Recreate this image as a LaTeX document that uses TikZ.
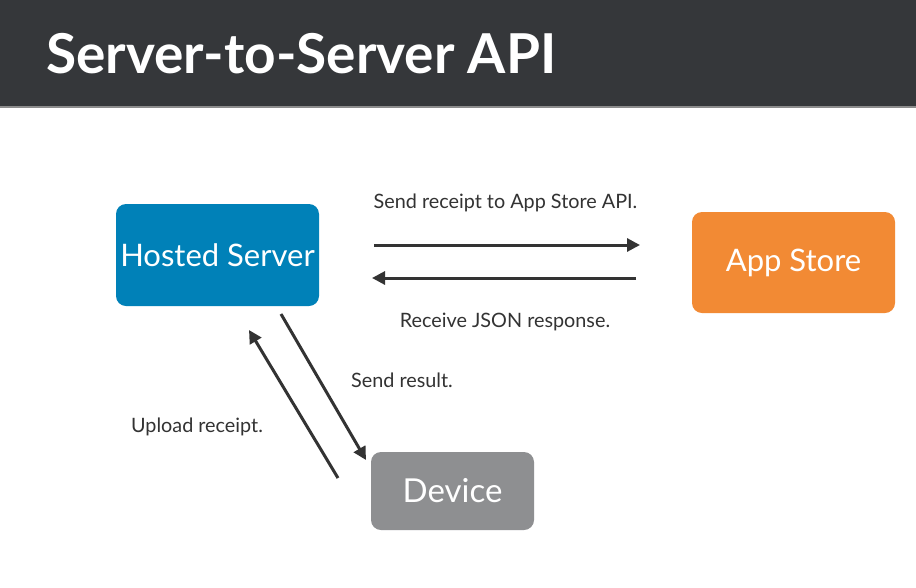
\documentclass[tikz,border=0pt]{standalone}
\usepackage{fontspec}
\setmainfont{Lato}
\usetikzlibrary{arrows.meta}
\pgfdeclarelayer{bg}
\pgfsetlayers{bg,main}
\definecolor{hdrgrey}{HTML}{35373A}
\definecolor{hdrline}{HTML}{8C8C8C}
\definecolor{hsblue}{HTML}{0081B8}
\definecolor{asorange}{HTML}{F28A34}
\definecolor{dvgrey}{HTML}{8E8F91}
\definecolor{txtgrey}{HTML}{333333}
\definecolor{arrgrey}{HTML}{333333}
\tikzset{
  box/.style={rounded corners=10pt, text=white, inner sep=0pt,
    font=\fontsize{31}{35}\selectfont},
  lbl/.style={text=txtgrey, inner sep=0pt, anchor=base,
    font=\fontsize{19.8}{23}\selectfont},
  arr/.style={line width=3pt, draw=arrgrey,
    -{Triangle[length=13pt,width=13pt]}}
}

\begin{document}
\begin{tikzpicture}[x=1pt,y=-1pt]
        \useasboundingbox (0,0) rectangle (916,587);
        \begin{pgfonlayer}{bg}
                \fill[white] (0,0) rectangle (916,587);
                \fill[hdrgrey] (0,0) rectangle (916,107);
                \draw[hdrline, line width=1.5pt] (0,107) -- (916,107);
        \end{pgfonlayer}
        \node (title) [anchor=base west, text=white, inner sep=0pt,
          font=\fontsize{55}{60}\selectfont\bfseries] at (46,73) {Server-to-Server API};
        \node (hs) [box, fill=hsblue, minimum width=203pt, minimum height=102pt] at (217.5,255) {Hosted Server};
        \node (as) [box, fill=asorange, minimum width=203pt, minimum height=101pt] at (793.5,262.5) {App Store};
        \node (dv) [box, fill=dvgrey, minimum width=163pt, minimum height=78pt,
          font=\fontsize{33}{37}\selectfont] at (452.5,491) {Device};
        \coordinate (sendA) at (374,245);
        \coordinate (sendB) at (640,245);
        \coordinate (recvA) at (636,278);
        \coordinate (recvB) at (372,278);
        \coordinate (resA) at (281,314);
        \coordinate (resB) at (366,460);
        \coordinate (upA) at (338,478);
        \coordinate (upB) at (249,330);
        \draw (sendA) edge [arr] (sendB);
        \draw (recvA) edge [arr] (recvB);
        \draw (resA) edge [arr] (resB);
        \draw (upA) edge [arr] (upB);
        \node (lsend) [lbl] at (505.5,208) {Send receipt to App Store API.};
        \node (lrecv) [lbl] at (505,327) {Receive JSON response.};
        \node (lres) [lbl, anchor=base west] at (351,387) {Send result.};
        \node (lup) [lbl] at (197,432) {Upload receipt.};
\end{tikzpicture}
\end{document}
